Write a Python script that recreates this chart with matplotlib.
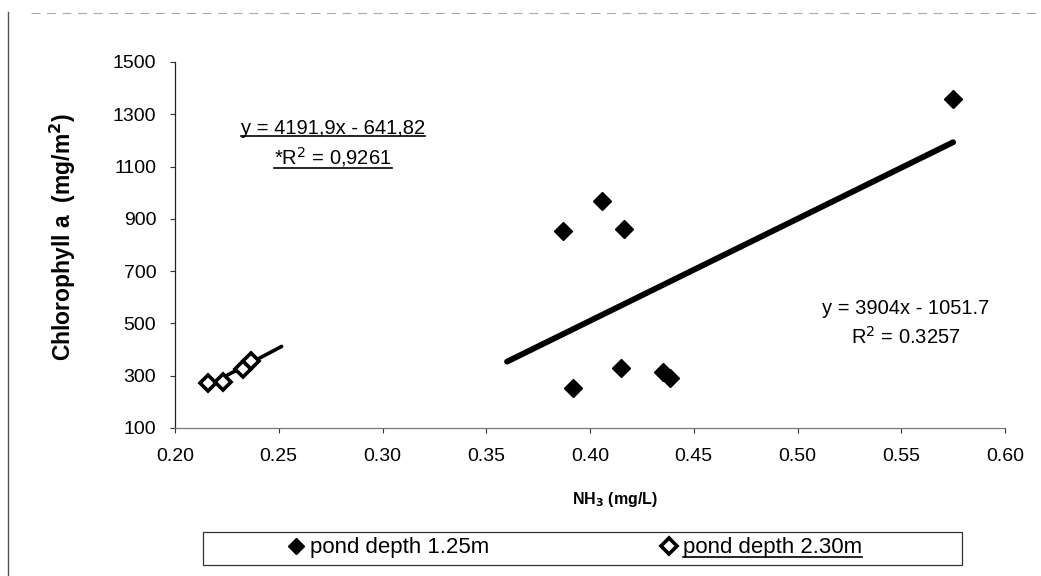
import numpy as np
import matplotlib
matplotlib.use("Agg")
from matplotlib import pyplot as plt
from matplotlib.lines import Line2D
from matplotlib.patches import Rectangle

plt.rcParams['font.family'] = ['Liberation Sans', 'DejaVu Sans']

# pond depth 1.25 m (filled diamonds)
nh3_125 = [0.387, 0.406, 0.4165, 0.392, 0.415, 0.435, 0.4386, 0.5748]
chl_125 = [854, 968, 860, 252, 328, 315, 290, 1357]

# pond depth 2.30 m (open diamonds)
nh3_230 = [0.216, 0.2233, 0.2329, 0.2365]
chl_230 = [273, 275, 324, 357]

# trendlines as printed on the chart
fit_125 = (3904.0, -1051.7)
fit_125_range = (0.36, 0.575)
fit_230 = (4191.9, -641.82)
fit_230_range = (0.216, 0.2514)

x_ticks = [0.20, 0.25, 0.30, 0.35, 0.40, 0.45, 0.50, 0.55, 0.60]
y_ticks = [100, 300, 500, 700, 900, 1100, 1300, 1500]

W, H = 1041, 576
fig = plt.figure(figsize=(10.41, 5.76), dpi=100)
ax = fig.add_axes([175 / W, 1 - 428 / H, 830 / W, 366 / H])

# trendlines
xs = np.array(fit_125_range)
ax.plot(xs, fit_125[0] * xs + fit_125[1], color='black', lw=4.2,
        solid_capstyle='round', zorder=2)
xs = np.array(fit_230_range)
ax.plot(xs, fit_230[0] * xs + fit_230[1], color='black', lw=2.6,
        solid_capstyle='round', zorder=2)

ax.plot(nh3_125, chl_125, linestyle='none', marker='D', ms=9.5,
        color='black', label='pond depth 1.25m', zorder=3)
ax.plot(nh3_230, chl_230, linestyle='none', marker='D', ms=8,
        mfc='white', mec='black', mew=2.6, label='pond depth 2.30m', zorder=3)

ax.set_xlim(0.20, 0.60)
ax.set_ylim(100, 1500)
ax.set_xticks(x_ticks)
ax.set_xticklabels([f"{v:.2f}" for v in x_ticks])
ax.set_yticks(y_ticks)
ax.tick_params(axis='both', labelsize=14, length=3.5, width=0.8, color='#333333')
ax.tick_params(axis='x', pad=11)
ax.tick_params(axis='y', pad=10)

for side in ['top', 'right']:
    ax.spines[side].set_visible(False)
ax.spines['left'].set_color('#222222')
ax.spines['bottom'].set_color('#777777')
ax.spines['left'].set_linewidth(0.9)
ax.spines['bottom'].set_linewidth(0.9)

ax.set_xlabel(r'NH$_\mathbf{3}$ (mg/L)', fontsize=11.5, fontweight='bold')
ax.xaxis.set_label_coords(0.53, -0.17)
ax.set_ylabel(r'Chlorophyll a  (mg/m$^\mathbf{2}$)', fontsize=16.5,
              fontweight='bold')
ax.yaxis.set_label_coords(-97 / 830, 0.522)

# equation labels
t1 = ax.text(0.2762, 1247, 'y = 4191,9x - 641,82', fontsize=14.5, ha='center', va='center')
t2 = ax.text(0.2762, 1137, '*R$^2$ = 0,9261', fontsize=14.5, ha='center', va='center')
ax.text(0.5523, 559, 'y = 3904x - 1051.7', fontsize=14.5, ha='center', va='center')
ax.text(0.5523, 448, 'R$^2$ = 0.3257', fontsize=14.5, ha='center', va='center')

# legend
fig.add_artist(Rectangle((203 / W, 1 - 565 / H), 759 / W, 33 / H,
                         transform=fig.transFigure, fill=False,
                         edgecolor='#333333', lw=0.9))
leg = fig.legend(loc='center left', ncol=2, bbox_to_anchor=(289 / W, 1 - 548 / H),
                 frameon=False, fontsize=16, handlelength=0.6,
                 handletextpad=0.34, columnspacing=7.8,
                 borderpad=0, borderaxespad=0)
for h in leg.legend_handles:
    h.set_markersize(8)

# underline the equation of the 2.30 m series and its legend entry
fig.canvas.draw()
renderer = fig.canvas.get_renderer()
inv = fig.transFigure.inverted()
for t in [t1, t2, leg.get_texts()[1]]:
    bb = t.get_window_extent(renderer)
    (x0, y0), (x1, y1) = inv.transform([(bb.x0, bb.y0), (bb.x1, bb.y1)])
    fig.add_artist(Line2D([x0, x1], [y0 + 0.002, y0 + 0.002],
                          transform=fig.transFigure, color='black', lw=1.2))

# scanned chart frame remnants
fig.add_artist(Line2D([0.008, 0.008], [0.0, 0.98], transform=fig.transFigure,
                      color='#555555', lw=1.0))
fig.add_artist(Line2D([0.03, 1.0], [0.977, 0.977], transform=fig.transFigure,
                      color='#aaaaaa', lw=0.8, linestyle=(0, (8, 6))))

fig.savefig('out.png', dpi=100)
